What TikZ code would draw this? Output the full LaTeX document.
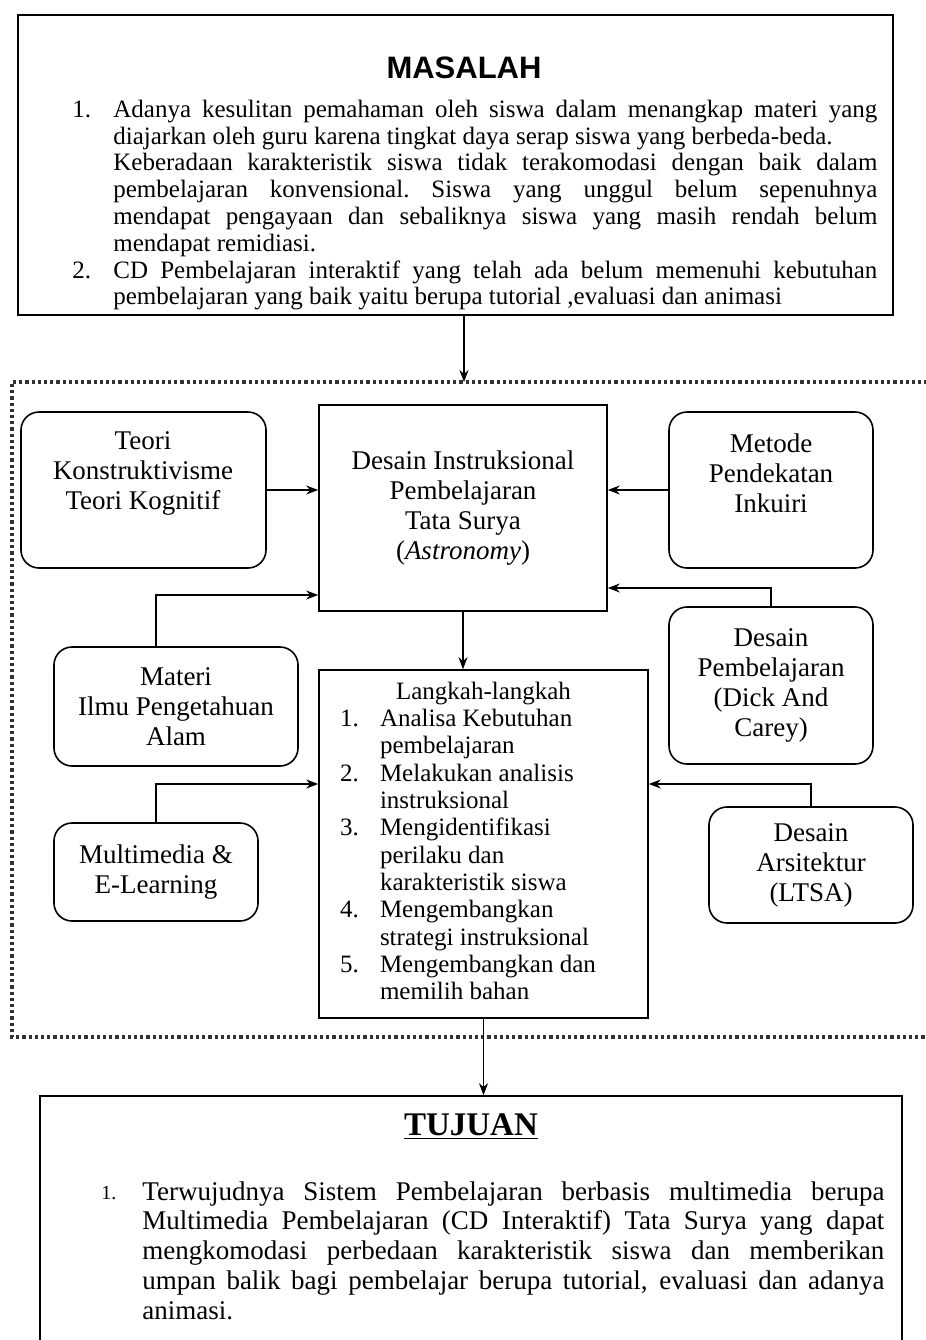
\documentclass[tikz,border=0pt]{standalone}
\usepackage{fontspec}
\setmainfont{Liberation Serif}
\newfontfamily\arialfont{Liberation Sans}
\usetikzlibrary{arrows.meta}

\begin{document}
\begin{tikzpicture}[x=0.5pt,y=-0.5pt,
  kotak/.style={draw,line width=0.8pt,inner sep=0pt},
  bulat/.style={draw,line width=0.8pt,rounded corners=9pt,align=center,font=\fontsize{13.5}{15}\selectfont},
  isi/.style={align=center,font=\fontsize{13.5}{15}\selectfont},
  panah/.style={-{Stealth[length=6pt,width=4.5pt]},line width=0.6pt}]
\useasboundingbox (0,0) rectangle (926,1340);

% masalah
\node[kotak,minimum width=437.5pt,minimum height=150pt] (masalah) at (455.5,165) {};
\node[font=\arialfont\bfseries\fontsize{15.5}{18}\selectfont] (masalahT) at (464,68) {MASALAH};
\node[anchor=north west,inner sep=0pt,text width=402.5pt,align=justify,font=\fontsize{12.5}{13.4}\selectfont] (masalahL) at (72,99.5) {%
\frenchspacing\hyphenpenalty=10000
\hangindent=20.5pt\hangafter=1\noindent\makebox[20.5pt][l]{1.}Adanya kesulitan pemahaman oleh siswa dalam menangkap materi yang\linebreak diajarkan oleh guru karena tingkat daya serap siswa yang berbeda-beda.\par
\hangindent=20.5pt\hangafter=0\noindent Keberadaan karakteristik siswa tidak terakomodasi dengan baik dalam\linebreak pembelajaran konvensional. Siswa yang unggul belum sepenuhnya\linebreak mendapat pengayaan dan sebaliknya siswa yang masih rendah belum\linebreak mendapat remidiasi.\par
\hangindent=20.5pt\hangafter=1\noindent\makebox[20.5pt][l]{2.}CD Pembelajaran interaktif yang telah ada belum memenuhi kebutuhan\linebreak pembelajaran yang baik yaitu berupa tutorial ,evaluasi dan animasi\par};

% bingkai titik-titik
\coordinate (frametop) at (464,382);
\draw[line width=1.6pt,dash pattern=on 1.6pt off 1.5pt,black!80] (940,382) -- (12,382) -- (12,1037) -- (940,1037);

% kiri
\node[bulat,minimum width=122.5pt,minimum height=78pt] (teori) at (143.5,490) {};
\node[isi] (teoriT) at (143,473) {Teori\\Konstruktivisme\\Teori Kognitif};
\node[bulat,minimum width=122pt,minimum height=59.5pt] (materi) at (176,706.5) {Materi\\Ilmu Pengetahuan\\Alam};
\node[bulat,minimum width=102pt,minimum height=49pt] (media) at (156,872) {Multimedia \&\\E-Learning};

% kanan
\node[bulat,minimum width=102pt,minimum height=78pt] (metode) at (771,490) {};
\node[isi] (metodeT) at (771,473) {Metode\\Pendekatan\\Inkuiri};
\node[bulat,minimum width=102pt,minimum height=78.5pt] (dick) at (771,685.5) {Desain\\Pembelajaran\\(Dick And\\Carey)};
\node[bulat,minimum width=102pt,minimum height=58pt] (ltsa) at (811,865) {Desain\\Arsitektur\\(LTSA)};

% tengah
\node[kotak,isi,minimum width=144pt,minimum height=103pt] (desain) at (463,508) {Desain Instruksional\\Pembelajaran\\Tata Surya\\(\textit{Astronomy})};
\node[kotak,minimum width=164.5pt,minimum height=174pt,font=\fontsize{12.5}{13.65}\selectfont] (langkah) at (483.5,844) {%
\begin{tabular}{@{}p{20pt}@{}p{123.5pt}@{}}
\multicolumn{2}{c}{Langkah-langkah}\\
1.&Analisa Kebutuhan\\
  &pembelajaran\\
2.&Melakukan analisis\\
  &instruksional\\
3.&Mengidentifikasi\\
  &perilaku dan\\
  &karakteristik siswa\\
4.&Mengembangkan\\
  &strategi instruksional\\
5.&Mengembangkan dan\\
  &memilih bahan
\end{tabular}};

% tujuan
\node[kotak,minimum width=431pt,minimum height=152pt] (tujuan) at (471,1248) {};
\node[font=\bfseries\fontsize{16.5}{19}\selectfont] (tujuanT) at (471,1127) {\underline{TUJUAN}};
\node[anchor=base west,inner sep=0pt,font=\fontsize{10}{12}\selectfont] (tujuanN) at (101,1199) {1.};
\node[anchor=north west,inner sep=0pt,text width=371pt,align=justify,font=\fontsize{13.5}{14.9}\selectfont] (tujuanL) at (142,1181) {%
\hyphenpenalty=10000
Terwujudnya Sistem Pembelajaran berbasis multimedia berupa\linebreak Multimedia Pembelajaran (CD Interaktif) Tata Surya yang dapat\linebreak mengkomodasi perbedaan karakteristik siswa dan memberikan\linebreak umpan balik bagi pembelajar berupa tutorial, evaluasi dan adanya\linebreak animasi.\par};

% panah
\draw[panah] (frametop |- masalah.south) -- (frametop);
\draw[panah] (teori.east) -- (teori.east -| desain.west);
\draw[panah] (metode.west) -- (metode.west -| desain.east);
\draw[panah] ([xshift=-10pt]materi.north) |- (desain.west |- 0,595);
\draw[panah] (dick.north) |- (desain.east |- 0,588);
\draw[panah] (desain.south) -- (desain.south |- langkah.north);
\draw[panah] (media.north) |- (langkah.west |- 0,784);
\draw[panah] (ltsa.north) |- (langkah.east |- 0,784);
\draw[panah] (langkah.south) -- (langkah.south |- tujuan.north);
\end{tikzpicture}
\end{document}
